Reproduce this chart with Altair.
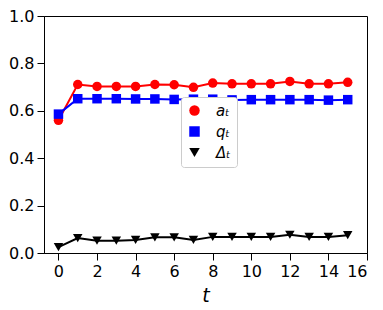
import altair as alt
import pandas as pd

t_vals = list(range(16))
a_vals = [0.56, 0.711, 0.703, 0.703, 0.703, 0.711, 0.71, 0.699, 0.717, 0.714, 0.714, 0.714, 0.724, 0.714, 0.714, 0.72]
q_vals = [0.586, 0.651, 0.651, 0.651, 0.650, 0.650, 0.648, 0.649, 0.649, 0.646, 0.647, 0.647, 0.647, 0.647, 0.645, 0.647]
d_vals = [0.025, 0.063, 0.052, 0.052, 0.055, 0.066, 0.066, 0.055, 0.068, 0.068, 0.068, 0.068, 0.077, 0.068, 0.068, 0.075]
series_names = ["aₜ", "qₜ", "Δₜ"]
series_colors = ["#ff0000", "#0000ff", "#000000"]
series_shapes = ["circle", "square", "triangle-down"]

rows = []
for name, col, vals in zip(series_names, series_colors, [a_vals, q_vals, d_vals]):
    for t, v in zip(t_vals, vals):
        rows.append({"t": t, "value": v, "series": name, "col": col})
df = pd.DataFrame(rows)

x = alt.X("t:Q", scale=alt.Scale(domain=[-0.75, 16], nice=False, zero=False),
          axis=alt.Axis(values=list(range(0, 17, 2)), title="t", titleFontStyle="italic",
                        titleFontSize=19, titleFontWeight="normal", titlePadding=7))
y = alt.Y("value:Q", scale=alt.Scale(domain=[0, 1.0], nice=False),
          axis=alt.Axis(values=[0, 0.2, 0.4, 0.6, 0.8, 1.0], format=".1f", title=None))

lines = alt.Chart(df).mark_line(strokeWidth=2).encode(
    x=x, y=y,
    stroke=alt.Stroke("col:N", scale=None),
    detail="series:N")

leg = alt.Legend(title=None, orient="none", legendX=137, legendY=81)

points = alt.Chart(df).mark_point(filled=True, size=90, opacity=1).encode(
    x=x, y=y,
    color=alt.Color("series:N", scale=alt.Scale(domain=series_names, range=series_colors), legend=leg),
    shape=alt.Shape("series:N", scale=alt.Scale(domain=series_names, range=series_shapes), legend=leg))

chart = alt.layer(lines, points).properties(
    width=323, height=237,
    padding={"left": 0, "top": 0, "right": 5, "bottom": 5},
).configure_view(stroke="black", strokeWidth=1).configure_axis(
    grid=False, domainColor="black", tickColor="black", labelColor="black", titleColor="black",
    labelFont="DejaVu Sans", titleFont="DejaVu Sans", labelFontSize=16, tickSize=7,
    labelPadding=3,
).configure_legend(labelFont="DejaVu Sans", labelColor="black", labelFontSize=15,
                   labelFontStyle="italic", symbolSize=110, fillColor="white",
                   strokeColor="#cccccc", padding=6, cornerRadius=3, rowPadding=4,
                   labelOffset=14, symbolOpacity=1)

chart.save("out.html", embed_options={"renderer": "svg", "actions": False})
